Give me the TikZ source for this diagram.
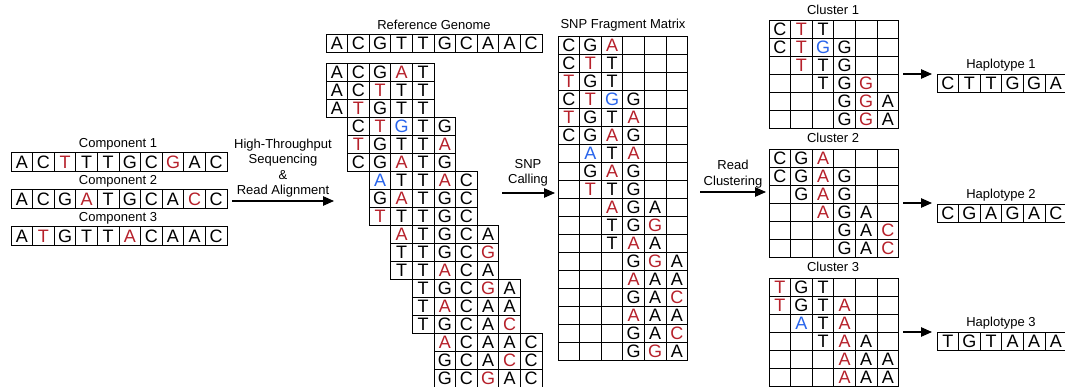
\documentclass[tikz,border=0pt]{standalone}
\usepackage{fontspec}
\setmainfont{Liberation Sans}
\usetikzlibrary{arrows.meta}
\definecolor{snpred}{RGB}{182,32,42}
\definecolor{snpblue}{RGB}{40,100,235}
\newcommand\Rd[1]{\textcolor{snpred}{#1}}
\newcommand\Bu[1]{\textcolor{snpblue}{#1}}
% name, left x, top y, row height, entries
\newcommand\seqrow[5]{\foreach \c [count=\i] in {#5}{\node[cell,minimum height=#4pt] (#1-\i) at ({#2+(\i-0.5)*21.6},{#3+#4/2}) {\c};}}
\begin{document}
\begin{tikzpicture}[x=1pt,y=-1pt,
  cell/.style={draw,line width=0.9pt,inner sep=0pt,minimum width=21.6pt,text height=13pt,text depth=0pt,font=\fontsize{18}{18}\selectfont,anchor=center},
  lab/.style={inner sep=0pt,align=center,font=\fontsize{13}{15.5}\selectfont},
  arr/.style={line width=1.1pt,-{Triangle[length=11pt,width=9.5pt]}}]
\useasboundingbox (0,0) rectangle (1065,387);
% Components
\node[lab] (lc1) at (118,144) {Component 1};
\seqrow{c1}{11}{152}{19.5}{A,C,\Rd{T},T,T,G,C,\Rd{G},A,C}
\node[lab] (lc2) at (118,181) {Component 2};
\seqrow{c2}{11}{189}{19.5}{A,C,G,\Rd{A},T,G,C,A,\Rd{C},C}
\node[lab] (lc3) at (118,218) {Component 3};
\seqrow{c3}{11}{226}{19.5}{A,\Rd{T},G,T,T,\Rd{A},C,A,A,C}
% Arrow 1
\node[lab] (la1) at (283,168) {High-Throughput\\Sequencing\\\&\\Read Alignment};
\coordinate (a1s) at (232,201); \coordinate (a1e) at (334,201);
\draw[arr] (a1s) -- (a1e);
% Reference genome
\node[lab] (lref) at (434,25) {Reference Genome};
\seqrow{ref}{326}{34}{18}{A,C,G,T,T,G,C,A,A,C}
% Reads
\seqrow{r1}{326}{63}{18}{A,C,G,\Rd{A},T}
\seqrow{r2}{326}{81}{18}{A,C,\Rd{T},T,T}
\seqrow{r3}{326}{99}{18}{A,\Rd{T},G,T,T}
\seqrow{r4}{347.6}{117}{18}{C,\Rd{T},\Bu{G},T,G}
\seqrow{r5}{347.6}{135}{18}{\Rd{T},G,T,T,\Rd{A}}
\seqrow{r6}{347.6}{153}{18}{C,G,\Rd{A},T,G}
\seqrow{r7}{369.2}{171}{18}{\Bu{A},T,T,\Rd{A},C}
\seqrow{r8}{369.2}{189}{18}{G,\Rd{A},T,G,C}
\seqrow{r9}{369.2}{207}{18}{\Rd{T},T,T,G,C}
\seqrow{r10}{390.8}{225}{18}{\Rd{A},T,G,C,A}
\seqrow{r11}{390.8}{243}{18}{T,T,G,C,\Rd{G}}
\seqrow{r12}{390.8}{261}{18}{T,T,\Rd{A},C,A}
\seqrow{r13}{412.4}{279}{18}{T,G,C,\Rd{G},A}
\seqrow{r14}{412.4}{297}{18}{T,\Rd{A},C,A,A}
\seqrow{r15}{412.4}{315}{18}{T,G,C,A,\Rd{C}}
\seqrow{r16}{434}{333}{18}{\Rd{A},C,A,A,C}
\seqrow{r17}{434}{351}{18}{G,C,A,\Rd{C},C}
\seqrow{r18}{434}{369}{18}{G,C,\Rd{G},A,C}
% Arrow 2
\node[lab] (la2) at (528,173) {SNP\\Calling};
\coordinate (a2s) at (502,193); \coordinate (a2e) at (555,193);
\draw[arr] (a2s) -- (a2e);
% SNP fragment matrix
\node[lab] (lm) at (623,25) {SNP Fragment Matrix};
\seqrow{m1}{558}{36}{18}{C,G,\Rd{A},{},{},{}}
\seqrow{m2}{558}{54}{18}{C,\Rd{T},T,{},{},{}}
\seqrow{m3}{558}{72}{18}{\Rd{T},G,T,{},{},{}}
\seqrow{m4}{558}{90}{18}{C,\Rd{T},\Bu{G},G,{},{}}
\seqrow{m5}{558}{108}{18}{\Rd{T},G,T,\Rd{A},{},{}}
\seqrow{m6}{558}{126}{18}{C,G,\Rd{A},G,{},{}}
\seqrow{m7}{558}{144}{18}{{},\Bu{A},T,\Rd{A},{},{}}
\seqrow{m8}{558}{162}{18}{{},G,\Rd{A},G,{},{}}
\seqrow{m9}{558}{180}{18}{{},\Rd{T},T,G,{},{}}
\seqrow{m10}{558}{198}{18}{{},{},\Rd{A},G,A,{}}
\seqrow{m11}{558}{216}{18}{{},{},T,G,\Rd{G},{}}
\seqrow{m12}{558}{234}{18}{{},{},T,\Rd{A},A,{}}
\seqrow{m13}{558}{252}{18}{{},{},{},G,\Rd{G},A}
\seqrow{m14}{558}{270}{18}{{},{},{},\Rd{A},A,A}
\seqrow{m15}{558}{288}{18}{{},{},{},G,A,\Rd{C}}
\seqrow{m16}{558}{306}{18}{{},{},{},\Rd{A},A,A}
\seqrow{m17}{558}{324}{18}{{},{},{},G,A,\Rd{C}}
\seqrow{m18}{558}{342}{18}{{},{},{},G,\Rd{G},A}
% Arrow 3
\node[lab] (la3) at (733,174) {Read\\Clustering};
\coordinate (a3s) at (700,192); \coordinate (a3e) at (766,192);
\draw[arr] (a3s) -- (a3e);
% Cluster 1
\node[lab] (lk1) at (833,10) {Cluster 1};
\seqrow{ka1}{769}{20}{18}{C,\Rd{T},T,{},{},{}}
\seqrow{ka2}{769}{38}{18}{C,\Rd{T},\Bu{G},G,{},{}}
\seqrow{ka3}{769}{56}{18}{{},\Rd{T},T,G,{},{}}
\seqrow{ka4}{769}{74}{18}{{},{},T,G,\Rd{G},{}}
\seqrow{ka5}{769}{92}{18}{{},{},{},G,\Rd{G},A}
\seqrow{ka6}{769}{110}{18}{{},{},{},G,\Rd{G},A}
% Cluster 2
\node[lab] (lk2) at (833,138) {Cluster 2};
\seqrow{kb1}{769}{149}{18}{C,G,\Rd{A},{},{},{}}
\seqrow{kb2}{769}{167}{18}{C,G,\Rd{A},G,{},{}}
\seqrow{kb3}{769}{185}{18}{{},G,\Rd{A},G,{},{}}
\seqrow{kb4}{769}{203}{18}{{},{},\Rd{A},G,A,{}}
\seqrow{kb5}{769}{221}{18}{{},{},{},G,A,\Rd{C}}
\seqrow{kb6}{769}{239}{18}{{},{},{},G,A,\Rd{C}}
% Cluster 3
\node[lab] (lk3) at (833,267) {Cluster 3};
\seqrow{kc1}{769}{278}{18}{\Rd{T},G,T,{},{},{}}
\seqrow{kc2}{769}{296}{18}{\Rd{T},G,T,\Rd{A},{},{}}
\seqrow{kc3}{769}{314}{18}{{},\Bu{A},T,\Rd{A},{},{}}
\seqrow{kc4}{769}{332}{18}{{},{},T,\Rd{A},A,{}}
\seqrow{kc5}{769}{350}{18}{{},{},{},\Rd{A},A,A}
\seqrow{kc6}{769}{368}{18}{{},{},{},\Rd{A},A,A}
% Haplotypes
\node[lab] (lh1) at (1001,65) {Haplotype 1};
\seqrow{h1}{937}{74}{18}{C,T,T,G,G,A}
\node[lab] (lh2) at (1001,195) {Haplotype 2};
\seqrow{h2}{937}{204}{18}{C,G,A,G,A,C}
\node[lab] (lh3) at (1001,323) {Haplotype 3};
\seqrow{h3}{937}{332}{18}{T,G,T,A,A,A}
\coordinate (b1s) at (903,74); \coordinate (b1e) at (932,74);
\coordinate (b2s) at (903,203); \coordinate (b2e) at (932,203);
\coordinate (b3s) at (903,332); \coordinate (b3e) at (932,332);
\draw[arr] (b1s) -- (b1e);
\draw[arr] (b2s) -- (b2e);
\draw[arr] (b3s) -- (b3e);
\end{tikzpicture}
\end{document}
